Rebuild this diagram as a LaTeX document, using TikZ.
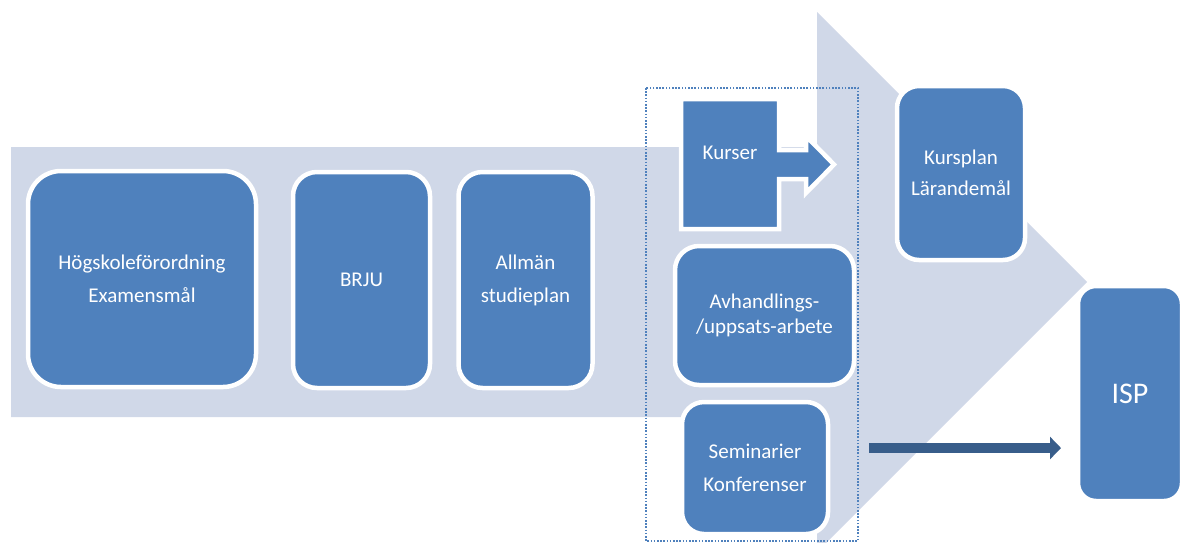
\documentclass[tikz,border=0pt]{standalone}
\usepackage{fontspec}
\setmainfont{Carlito}
\usetikzlibrary{arrows.meta}
\definecolor{boxblue}{HTML}{4F81BD}
\definecolor{bgarrow}{HTML}{D0D8E8}
\definecolor{darkarrow}{HTML}{385D8A}
\tikzset{
  blbox/.style={draw=white, line width=4.5pt, fill=boxblue, inner sep=0pt,
    text=white, align=center, font=\fontsize{21}{33}\selectfont},
  bigarrow/.style={fill=bgarrow, draw=none},
  grpframe/.style={draw=boxblue, line width=1.6pt, dash pattern=on 1.6pt off 1.6pt},
  flowarrow/.style={draw=darkarrow, line width=10pt, -{Triangle[length=11pt,width=22pt]}}
}
\begin{document}
\begin{tikzpicture}[x=1pt,y=-1pt]
\useasboundingbox (0,0) rectangle (1182,542);
\clip (0,0) rectangle (1182,542);
% background arrow
\path[bigarrow] (11,147) -- (817,147) -- (817,12) -- (1087,282) -- (817,552) -- (817,417) -- (11,417) -- cycle;
% dotted frame
\draw[grpframe] (646,88) rectangle (858,541);
% boxes
\node[blbox, rounded corners=33pt, minimum width=228pt, minimum height=216pt] (hf) at (142,279) {Högskoleförordning\\Examensmål};
\node[blbox, rounded corners=24pt, minimum width=137pt, minimum height=216pt] (brju) at (361.5,280) {BRJU};
\node[blbox, rounded corners=24pt, minimum width=134pt, minimum height=216pt] (asp) at (525.5,280) {Allmän\\studieplan};
% Kurser shape
\path[draw=white, line width=4.5pt, fill=boxblue, line join=miter]
  (681,99) -- (779,99) -- (779,150) -- (806,150) -- (806,136) -- (834,164.5)
  -- (806,193) -- (806,179) -- (779,179) -- (779,229) -- (681,229) -- cycle;
\node[text=white, font=\fontsize{21}{25}\selectfont] (kurser) at (730,153) {Kurser};
\node[blbox, rounded corners=24pt, minimum width=179pt, minimum height=139pt, font=\fontsize{21}{25}\selectfont] (avh) at (764.5,315.5) {Avhandlings-\\/uppsats-arbete};
\node[blbox, rounded corners=22pt, minimum width=146pt, minimum height=132pt] (sem) at (755,468) {Seminarier\\Konferenser};
\node[blbox, rounded corners=22pt, minimum width=128pt, minimum height=174pt, font=\fontsize{21}{31}\selectfont] (kp) at (961,173) {Kursplan\\Lärandemål};
\node[blbox, rounded corners=18pt, minimum width=104pt, minimum height=215pt, font=\fontsize{30}{36}\selectfont] (isp) at (1130,393.5) {ISP};
% dark arrow
\coordinate (arrS) at (869,448);
\coordinate (arrE) at (1061,448);
\draw[flowarrow] (arrS) -- (arrE);
\end{tikzpicture}
\end{document}
